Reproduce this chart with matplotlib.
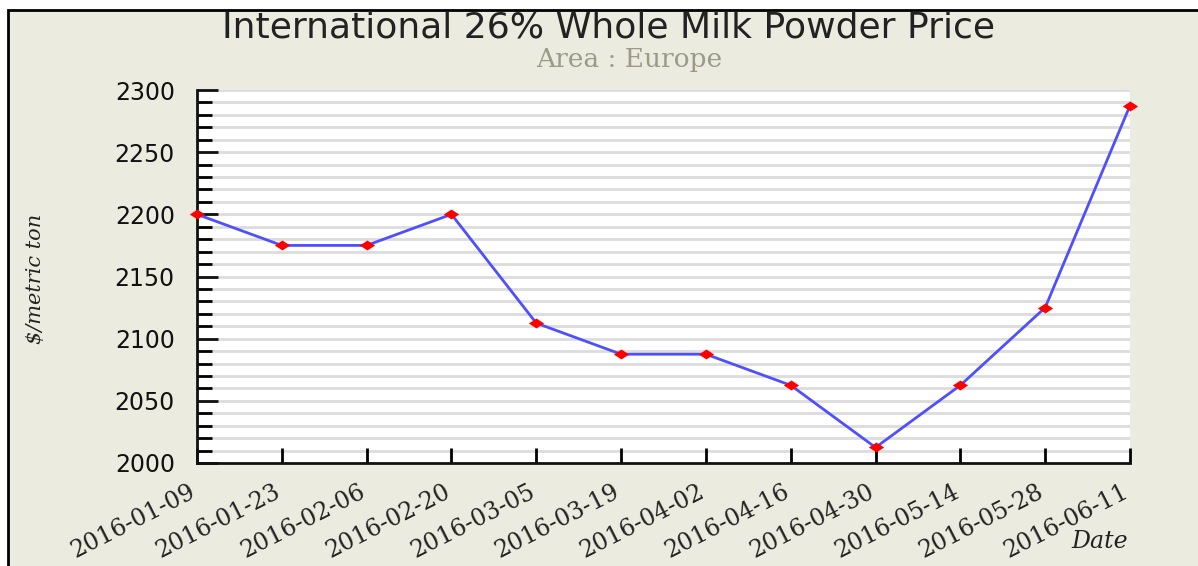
import matplotlib
matplotlib.use('Agg')
from matplotlib import pyplot as plt
from matplotlib.patches import Rectangle
from matplotlib.ticker import MultipleLocator
from matplotlib.transforms import ScaledTranslation
import numpy as np

dates = ['2016-01-09', '2016-01-23', '2016-02-06', '2016-02-20', '2016-03-05', '2016-03-19',
         '2016-04-02', '2016-04-16', '2016-04-30', '2016-05-14', '2016-05-28', '2016-06-11']
prices = [2200, 2175, 2175, 2200, 2112.5, 2087.5, 2087.5, 2062.5, 2012.5, 2062.5, 2125, 2287.5]

title = 'International 26% Whole Milk Powder Price'
subtitle = 'Area : Europe'
y_label = '$/metric ton'
x_label = 'Date'

bg = '#ECEBDF'


def main():
    W, H = 1198, 566
    fig = plt.figure(figsize=(W / 100, H / 100), dpi=100)
    fig.patch.set_facecolor('white')
    # beige panel with the black frame on top and left
    fig.patches.append(Rectangle((8 / W, -0.5), 2.0, 1.5 - 10 / H, transform=fig.transFigure,
                                 facecolor=bg, edgecolor='black', linewidth=2, zorder=-5))

    ax = fig.add_axes([197 / W, 1 - 463 / H, (1130 - 197) / W, (463 - 90) / H])
    ax.set_facecolor('white')
    ax.set_zorder(2)

    x = np.arange(len(dates))
    ax.set_xlim(x[0], x[-1])
    ax.set_ylim(2000, 2300)

    for v in np.arange(2010, 2301, 10):
        ax.axhline(v, color='#DCDCDC', linewidth=2, zorder=1)

    diamond = [(-1, 0), (0, 0.65), (1, 0), (0, -0.65), (-1, 0)]
    ax.plot(x, prices, color='#4f4fff', linewidth=2, zorder=3, clip_on=False)
    ax.plot(x, prices, linestyle='none', marker=diamond, markersize=11, color='#ff0000',
            markeredgewidth=0, zorder=4, clip_on=False)

    for s in ['top', 'right']:
        ax.spines[s].set_visible(False)
    for s in ['left', 'bottom']:
        ax.spines[s].set_linewidth(2)
        ax.spines[s].set_color('#111111')

    ax.yaxis.set_major_locator(MultipleLocator(50))
    ax.yaxis.set_minor_locator(MultipleLocator(10))
    ax.tick_params(axis='y', which='major', direction='in', length=15, width=2, pad=16,
                   labelsize=17, colors='#111111')
    ax.tick_params(axis='y', which='minor', direction='in', length=11, width=2)
    for lab in ax.get_yticklabels():
        lab.set_fontfamily('DejaVu Sans')

    ax.set_xticks(x)
    ax.set_xticklabels(dates, rotation=27, ha='right', rotation_mode='anchor',
                       fontfamily='DejaVu Serif', fontsize=17, color='#222222')
    ax.tick_params(axis='x', direction='in', length=11, width=2, pad=12)
    shift = ScaledTranslation(-8 / 100, 0, fig.dpi_scale_trans)
    for lab in ax.get_xticklabels():
        lab.set_transform(lab.get_transform() + shift)

    fig.text(0.508, 1 - 27 / H, title, ha='center', va='center', fontsize=26,
             fontfamily='DejaVu Sans', color='#222222')
    fig.text(0.525, 1 - 60 / H, subtitle, ha='center', va='center', fontsize=19,
             fontfamily='DejaVu Serif', color='#9a9a86')
    fig.text(35 / W, 1 - 279 / H, y_label, ha='center', va='center', rotation=90,
             fontsize=15, fontfamily='DejaVu Serif', style='italic', color='#222222')
    fig.text(1128 / W, 1 - 541 / H, x_label, ha='right', va='center', fontsize=17,
             fontfamily='DejaVu Serif', style='italic', color='#222222')

    fig.savefig('out.png', dpi=100, facecolor=fig.get_facecolor())


if __name__ == '__main__':
    main()
